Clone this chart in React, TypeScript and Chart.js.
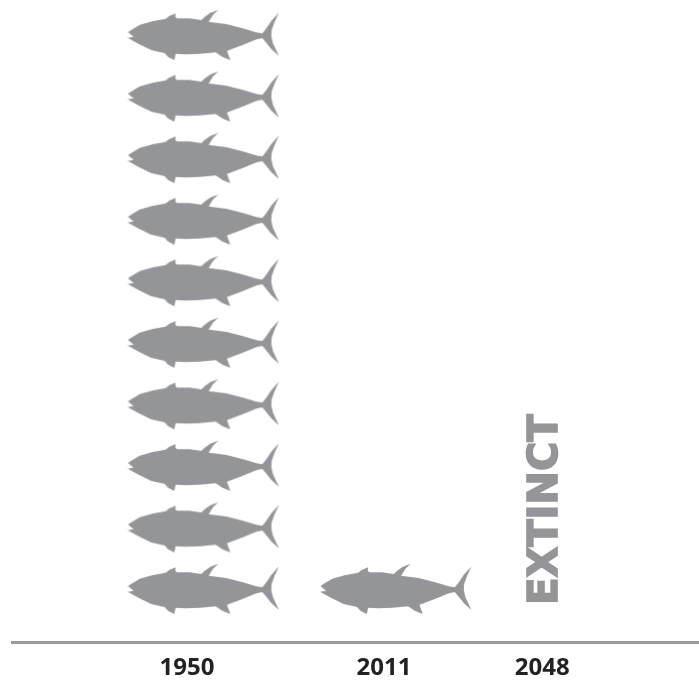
import React, { useEffect, useRef } from "react";
import { Chart, registerables } from "chart.js";

Chart.register(...registerables);

const years = ["1950", "2011", "2048"];
const fishCounts = [10, 1, 0];
const yearSlots = [0, 0.99, 1.785];
const fishSlots = [0.083, 1.05, 1.785];
const statusLabel = "EXTINCT";
const FISH_COLOR = "#939598";

// Outline of the fish glyph, in zoomed glyph units (3 units = 1 px).
const fishOutline: [number, number][] = [
  [55, 96], [64, 90], [90, 74], [130, 63], [168, 56], [178, 48], [198, 40], [197, 50], [202, 55],
  [240, 55], [275, 60], [285, 50], [302, 38], [326, 29], [310, 44], [297, 65],
  [350, 72], [400, 85], [440, 97], [458, 100], [470, 85], [485, 62], [508, 37],
  [495, 65], [486, 90], [485, 108], [490, 130], [508, 168], [485, 147], [470, 128], [458, 114],
  [440, 118], [400, 134], [352, 152], [362, 180], [338, 170], [318, 157],
  [270, 161], [230, 163], [198, 161], [194, 180], [175, 170], [165, 159],
  [125, 150], [88, 132], [54, 113], [72, 110], [62, 102],
];

function makeFish(): HTMLCanvasElement {
  const c = document.createElement("canvas");
  c.width = 152;
  c.height = 56;
  const g = c.getContext("2d")!;
  g.fillStyle = FISH_COLOR;
  g.filter = "blur(0.5px)";
  g.beginPath();
  fishOutline.forEach(([x, y], i) => {
    const px = (x - 55) / 3 + 0.5;
    const py = (y - 105) / 3 + 28;
    if (i === 0) g.moveTo(px, py);
    else g.lineTo(px, py);
  });
  g.closePath();
  g.fill();
  return c;
}

export default function App() {
  const ref = useRef<HTMLCanvasElement>(null);
  useEffect(() => {
    document.body.style.margin = "0";
    document.body.style.background = "#fff";
    const fish = makeFish();
    const points: { x: number; y: number }[] = [];
    fishCounts.forEach((n, i) => {
      for (let k = 1; k <= n; k++) points.push({ x: fishSlots[i], y: k });
    });
    const extinctPlugin = {
      id: "extinct",
      afterDatasetsDraw(chart: any) {
        const idx = fishCounts.indexOf(0);
        const { ctx, scales } = chart;
        ctx.save();
        ctx.translate(scales.x.getPixelForValue(fishSlots[idx]), scales.y.getPixelForValue(2.29));
        ctx.rotate(-Math.PI / 2);
        ctx.font = "bold 40px 'DejaVu Sans'";
        ctx.textAlign = "center";
        ctx.textBaseline = "middle";
        ctx.fillStyle = FISH_COLOR;
        ctx.strokeStyle = FISH_COLOR;
        ctx.lineWidth = 1.6;
        ctx.lineJoin = "miter";
        ctx.fillText(statusLabel, 0, 4.5);
        ctx.strokeText(statusLabel, 0, 4.5);
        ctx.restore();
      },
    };
    const chart = new Chart(ref.current!, {
      type: "scatter",
      data: {
        datasets: [
          {
            label: "Fish stock",
            data: points,
            pointStyle: fish as any,
            pointRadius: 20,
            pointHoverRadius: 20,
          },
        ],
      },
      options: {
        animation: false,
        responsive: false,
        layout: { autoPadding: false, padding: { left: 12, right: 0, top: 0, bottom: 0 } },
        plugins: { legend: { display: false }, tooltip: { enabled: false } },
        scales: {
          x: {
            type: "linear",
            min: -0.879,
            max: 2.573,
            grid: { display: false, drawTicks: false },
            border: { display: true, color: "#999a9c", width: 3 },
            afterBuildTicks: (axis: any) => {
              axis.ticks = yearSlots.map((value) => ({ value }));
            },
            afterFit: (axis: any) => {
              axis.height = 41;
            },
            ticks: {
              autoSkip: false,
              maxRotation: 0,
              padding: 12,
              color: "#222222",
              font: { family: "'Open Sans'", size: 24, weight: 700 },
              callback: (v: any) => years[yearSlots.indexOf(v)] ?? "",
            },
          },
          y: {
            type: "linear",
            display: false,
            min: 0.139,
            max: 10.57,
          },
        },
      },
      plugins: [extinctPlugin],
    });
    return () => chart.destroy();
  }, []);
  return <canvas ref={ref} width={699} height={683} style={{ display: "block" }} />;
}
